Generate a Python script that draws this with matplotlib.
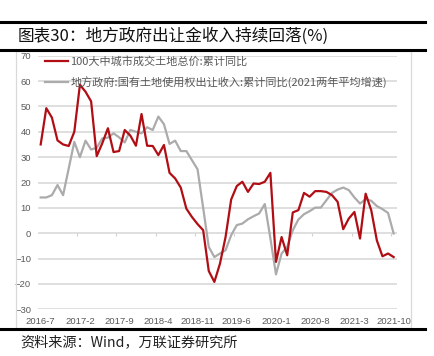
import numpy as np
import matplotlib
matplotlib.use("Agg")
import matplotlib.pyplot as plt
from matplotlib.lines import Line2D
from matplotlib.patches import Rectangle

plt.rcParams['font.family'] = ['Noto Sans CJK SC', 'DejaVu Sans']

title = "图表30：地方政府出让金收入持续回落(%)"
source = "资料来源：Wind，万联证券研究所"
series_names = ["100大中城市成交土地总价:累计同比",
                "地方政府:国有土地使用权出让收入:累计同比(2021两年平均增速)"]
tick_labels = ["2016-7", "2017-2", "2017-9", "2018-4", "2018-11",
               "2019-6", "2020-1", "2020-8", "2021-3", "2021-10"]

# monthly values, 2016-7 .. 2021-10
red_vals = [35, 49.3, 45.6, 36.6, 35, 34.4, 40, 58.5, 55.8, 52,
            30.4, 35.5, 41.4, 32, 32.4, 40.7, 38.5, 34.5, 47, 34.5,
            34.4, 30.8, 34.8, 23.8, 21.6, 18, 9.7, 6.4, 3.6, 1.2,
            -14.9, -19.2, -12, -1.5, 13.3, 18.6, 20.3, 16.3, 19.6, 19.4,
            20.3, 23.8, -11.3, -1.5, -8.7, 8.2, 9.1, 15.9, 14.4, 16.6,
            16.6, 16.3, 15, 12.4, 1.6, 5.8, 8.4, -2.1, 15.6, 9.1,
            -2.8, -9.1, -8, -9.4]
gray_vals = [14.1, 14.1, 15, 19, 15, 25.5, 36, 30, 36.5, 33,
             33.7, 37.4, 37.7, 39.4, 37.8, 35.8, 40.7, 40, 39.4, 41.8,
             40.7, 46, 43, 35.2, 36.5, 32.4, 32.4, 28.8, 25.2, 10,
             -5.4, -9.4, -8, -6.7, -0.8, 3.2, 3.8, 5.5, 6.7, 7.8,
             11.5, -2, -16.2, -8, -5.4, 1.2, 5.4, 7.5, 8.7, 10.1,
             10.1, 13, 15.9, 17.2, 18, 17, 14.1, 11.7, 13.4, 12.8,
             10.7, 9.5, 8, -0.1]

W, H = 435, 356
fig = plt.figure(figsize=(W / 100, H / 100), dpi=100)

def fx(px):
    return px / W

def fy(py):
    return 1 - py / H

# title rules
fig.add_artist(Line2D([0, fx(425)], [fy(22), fy(22)], color='black', lw=2.2))
fig.add_artist(Line2D([0, fx(425)], [fy(50), fy(50)], color='black', lw=2.2))
fig.add_artist(Line2D([0, fx(425)], [fy(329), fy(329)], color='black', lw=2.2))
fig.text(fx(18), fy(36.5), title, fontsize=12, va='center', ha='left', color='#111111')
fig.text(fx(20), fy(342), source, fontsize=10.2, va='center', ha='left',
         color='#222222', style='italic')

# chart frame
fig.add_artist(Rectangle((fx(16), fy(328)), fx(411) - fx(16), fy(51) - fy(328),
                         transform=fig.transFigure, fill=False,
                         edgecolor='#D9D9D9', lw=0.9))

ax = fig.add_axes([fx(38), fy(309.3), fx(397) - fx(38), fy(55.7) - fy(309.3)])
x = np.arange(len(red_vals))
ax.plot(x, red_vals, color='#B00E14', lw=1.6, label=series_names[0], zorder=3)
ax.plot(x, gray_vals, color='#ABABAB', lw=1.6, label=series_names[1], zorder=2)

ax.set_ylim(-30, 70)
ax.set_yticks(np.arange(-30, 71, 10))
ax.set_xlim(-0.48, 63.6)
ax.set_xticks(np.arange(0, len(red_vals), 7))
ax.set_xticklabels(tick_labels)
ax.grid(axis='y', color='#D9D9D9', lw=1.2)
ax.set_axisbelow(True)
for s in ax.spines.values():
    s.set_visible(False)
ax.tick_params(axis='both', length=0, labelsize=6.8, colors='#595959', labelcolor='#595959')
ax.tick_params(axis='y', pad=5)
ax.tick_params(axis='x', pad=5.5)
for lab in ax.get_xticklabels() + ax.get_yticklabels():
    lab.set_family(['Liberation Sans', 'DejaVu Sans'])

# small category ticks on the zero line
sec = ax.secondary_xaxis(0.3)
sec.spines['bottom'].set_visible(False)
sec.set_xticks(np.arange(0, len(red_vals), 7) - 0.5)
sec.tick_params(axis='x', length=2.5, width=0.8, color='#D0D0D0', labelbottom=False)

leg = ax.legend(loc='upper left', bbox_to_anchor=(0.0, 1.025), frameon=False,
                fontsize=8.0, handlelength=2.1, handletextpad=0.2,
                labelspacing=0.85, borderaxespad=0.2)
for t in leg.get_texts():
    t.set_color('#595959')

fig.savefig('out.png', dpi=100)
